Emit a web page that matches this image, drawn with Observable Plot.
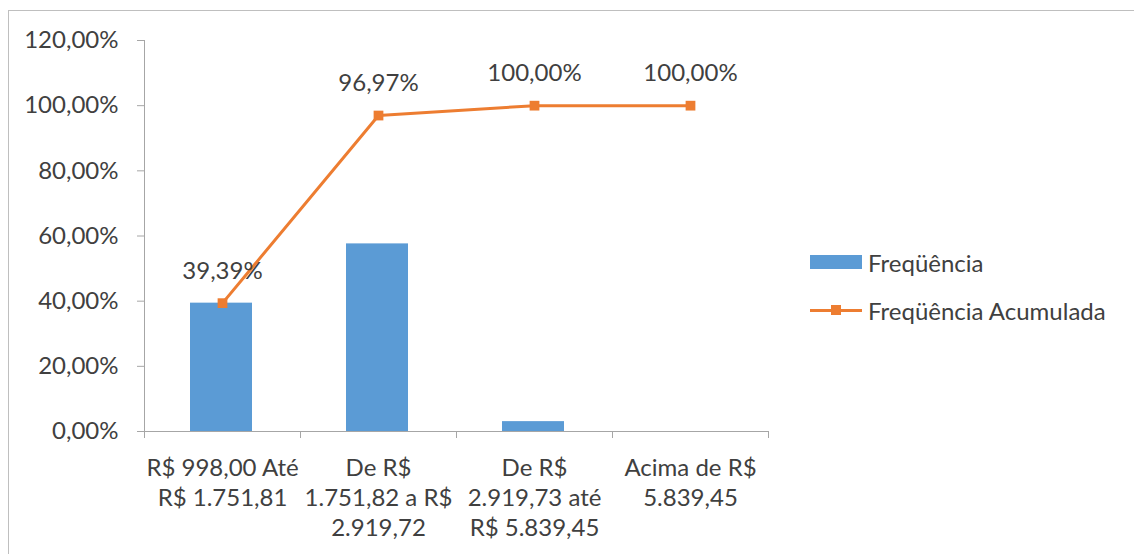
<!DOCTYPE html>
<html><head><meta charset="utf-8">
<script src="https://cdn.jsdelivr.net/npm/d3@7"></script>
<script src="https://cdn.jsdelivr.net/npm/@observablehq/plot@0.6"></script>
<style>
body{margin:0;background:#fff;font-family:Lato,sans-serif;color:#404040;}
#wrap{position:relative;width:1134px;height:554px;overflow:hidden;}
#frame{position:absolute;left:8px;top:10px;width:1140px;height:560px;border:1px solid #bfbfbf;box-sizing:border-box;}
#chart{position:absolute;left:0;top:0;}
.leg{position:absolute;left:810px;height:30px;display:flex;align-items:center;font-size:24px;white-space:nowrap;}
.sw{width:52px;height:14px;background:#5B9BD5;margin-right:6px;}
.ln{position:relative;width:52px;height:3px;background:#ED7D31;margin-right:6px;}
.ln::after{content:"";position:absolute;left:21px;top:-4px;width:10px;height:10px;background:#ED7D31;}
</style></head>
<body>
<div id="wrap">
  <div id="frame"></div>
  <div id="chart"></div>
  <div id="legend"></div>
</div>
<script>
const categories = ["R$ 998,00 Até\nR$ 1.751,81", "De R$\n1.751,82 a R$\n2.919,72", "De R$\n2.919,73 até\nR$ 5.839,45", "Acima de R$\n5.839,45"];
const frequencia = [39.39, 57.58, 3.03, 0];
const acumulada = [39.39, 96.97, 100, 100];
const yTicks = [0, 20, 40, 60, 80, 100, 120];
const seriesNames = ["Freqüência", "Freqüência Acumulada"];

const fmt = v => v.toFixed(2).replace(".", ",") + "%";
const data = categories.map((c, i) => ({i, cat: c, f: frequencia[i], c: acumulada[i]}));

const chart = Plot.plot({
  width: 1134, height: 554,
  marginLeft: 144, marginRight: 366, marginTop: 40, marginBottom: 123,
  style: {fontFamily: "Lato, sans-serif", color: "#404040", background: "transparent"},
  x: {type: "linear", domain: [0, categories.length]},
  y: {domain: [0, 120]},
  marks: [
    Plot.rectY(data, {x1: "i", x2: d => d.i + 1, y: "f", fill: "#5B9BD5", insetLeft: 46, insetRight: 48}),
    Plot.ruleX([0], {y1: 0, y2: 120, stroke: "#a6a6a6"}),
    Plot.ruleY([0], {stroke: "#a6a6a6"}),
    Plot.axisY({ticks: yTicks, tickFormat: fmt, tickSize: 7, tickPadding: 19, fontSize: 24, stroke: "#a6a6a6", label: null}),
    Plot.axisX({ticks: d3.range(categories.length + 1), tickFormat: () => "", tickSize: 7, stroke: "#a6a6a6", label: null}),
    Plot.text(data, {x: d => d.i + 0.5, y: 0, text: "cat", lineAnchor: "top", dy: 23, lineHeight: 1.25, fontSize: 24, fill: "#404040"}),
    Plot.lineY(data, {x: d => d.i + 0.5, y: "c", stroke: "#ED7D31", strokeWidth: 3}),
    Plot.dot(data, {x: d => d.i + 0.5, y: "c", symbol: "square", r: 5.5, fill: "#ED7D31", stroke: "none"}),
    Plot.text(data.filter(d => d.c > 0), {x: d => d.i + 0.5, y: "c", text: d => fmt(d.c), dy: -32, fontSize: 24, fill: "#404040"})
  ]
});
document.getElementById("chart").appendChild(chart);

const leg = document.getElementById("legend");
leg.innerHTML =
  `<div class="leg" style="top:247px"><div class="sw"></div><span>${seriesNames[0]}</span></div>` +
  `<div class="leg" style="top:295px"><div class="ln"></div><span>${seriesNames[1]}</span></div>`;
</script>
</body></html>
